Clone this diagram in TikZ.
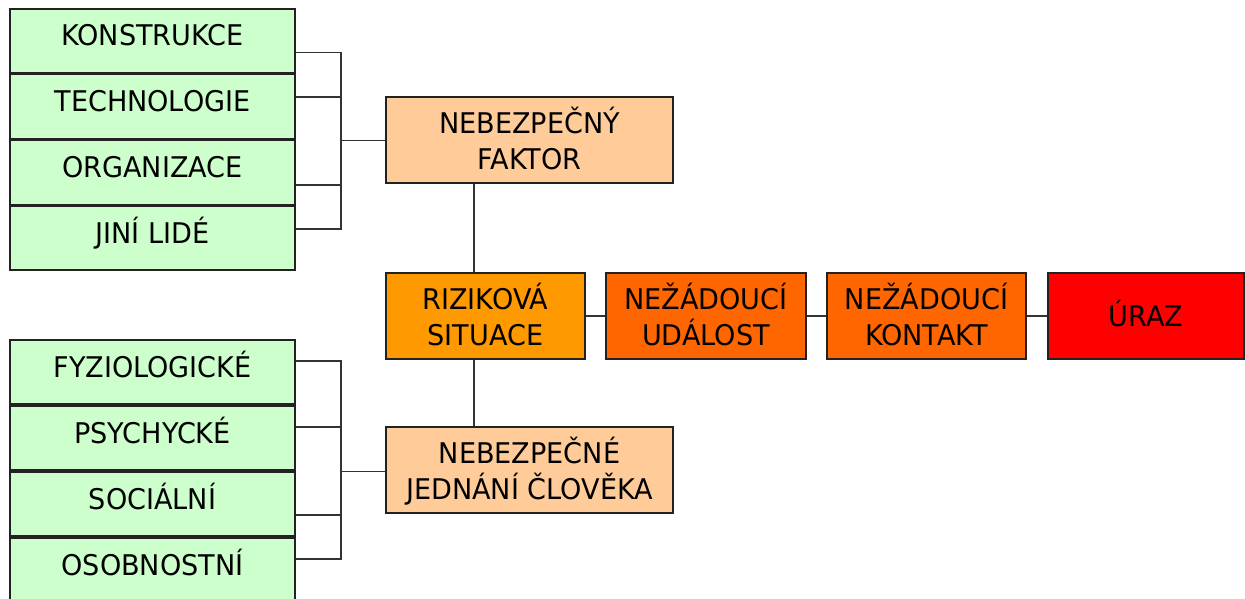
\documentclass[tikz,border=0pt]{standalone}
\usepackage{fontspec}
\setmainfont{DejaVu Sans}[FakeStretch=0.95]
\definecolor{gfill}{HTML}{CCFFCC}
\definecolor{lofill}{HTML}{FFCC99}
\definecolor{ofill}{HTML}{FF9900}
\definecolor{dofill}{HTML}{FF6600}
\definecolor{rfill}{HTML}{FF0000}
\definecolor{edge}{HTML}{222222}
\definecolor{wire}{HTML}{333333}
\begin{document}
\begin{tikzpicture}[x=1pt,y=-1pt,
  every node/.style={font=\fontsize{28.5}{36}\selectfont, text=black},
  gbox/.style={draw=edge, line width=1.6pt, fill=gfill, minimum width=285pt, minimum height=64.2pt, inner sep=0pt, text height=21pt, text depth=11pt},
  cbox/.style={draw=edge, line width=1.3pt, minimum height=86pt, inner sep=0pt, align=center, text height=59.7pt, text depth=0pt},
  sbox/.style={draw=edge, line width=1.3pt, minimum height=86pt, inner sep=0pt, text height=21pt, text depth=0pt},
  wirestyle/.style={draw=wire, line width=1.4pt}]
\useasboundingbox (0,0) rectangle (1245,599);
% top group
\node[gbox] (k1) at (152.5,40.9) {KONSTRUKCE};
\node[gbox] (k2) at (152.5,106.6) {TECHNOLOGIE};
\node[gbox] (k3) at (152.5,172.4) {ORGANIZACE};
\node[gbox] (k4) at (152.5,238.1) {JINÍ LIDÉ};
% bottom group
\node[gbox, minimum height=64.4pt] (f1) at (152.5,372) {FYZIOLOGICKÉ};
\node[gbox, minimum height=64.4pt] (f2) at (152.5,438) {PSYCHYCKÉ};
\node[gbox, minimum height=64.4pt] (f3) at (152.5,504) {SOCIÁLNÍ};
\node[gbox, minimum height=64.4pt] (f4) at (152.5,570) {OSOBNOSTNÍ};
% central boxes
\node[cbox, fill=lofill, minimum width=287pt] (nf) at (529.5,140) {NEBEZPEČNÝ\\FAKTOR};
\node[cbox, fill=ofill, minimum width=199pt] (rs) at (485.5,316) {RIZIKOVÁ\\SITUACE};
\node[cbox, fill=dofill, minimum width=200pt] (nu) at (706,316) {NEŽÁDOUCÍ\\UDÁLOST};
\node[cbox, fill=dofill, minimum width=199pt] (nk) at (926.5,316) {NEŽÁDOUCÍ\\KONTAKT};
\node[sbox, fill=rfill, minimum width=196pt] (ur) at (1146,316) {ÚRAZ};
\node[cbox, fill=lofill, minimum width=287pt] (nj) at (529.5,470) {NEBEZPEČNÉ\\JEDNÁNÍ ČLOVĚKA};
% bus coordinates
\coordinate (bt) at (341,140.7);
\coordinate (bb) at (341,471.7);
% top connectors
\draw[wirestyle] ([yshift=-11.8pt]k1.east) -| (bt);
\draw[wirestyle] ([yshift=9.6pt]k2.east) -| (bt);
\draw[wirestyle] ([yshift=-12.6pt]k3.east) -| (bt);
\draw[wirestyle] ([yshift=9.1pt]k4.east) -| (bt);
\draw[wirestyle] (bt) -- (nf.west |- bt);
% bottom connectors
\draw[wirestyle] ([yshift=11pt]f1.east) -| (bb);
\draw[wirestyle] ([yshift=11pt]f2.east) -| (bb);
\draw[wirestyle] ([yshift=-11pt]f3.east) -| (bb);
\draw[wirestyle] ([yshift=11pt]f4.east) -| (bb);
\draw[wirestyle] (bb) -- (nj.west |- bb);
% vertical chain
\draw[wirestyle] (nf.south -| 474,0) -- (rs.north -| 474,0);
\draw[wirestyle] (rs.south -| 474,0) -- (nj.north -| 474,0);
% horizontal chain
\draw[wirestyle] (rs.east) -- (nu.west);
\draw[wirestyle] (nu.east) -- (nk.west);
\draw[wirestyle] (nk.east) -- (ur.west);
\end{tikzpicture}
\end{document}
